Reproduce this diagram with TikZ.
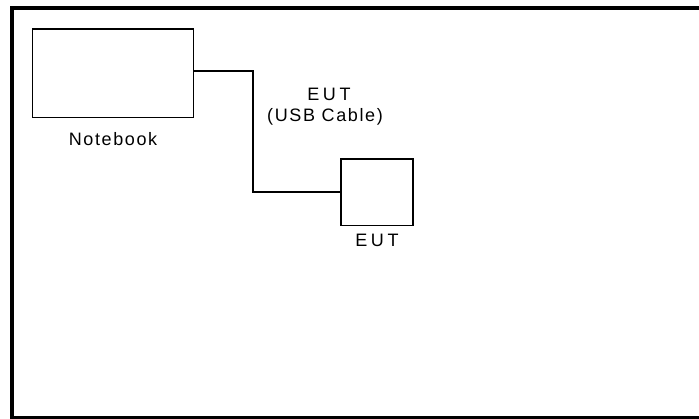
\documentclass[tikz,border=0pt]{standalone}
\usepackage{fontspec}
\setmainfont{Liberation Sans}[LetterSpace=9]
\begin{document}
\begin{tikzpicture}[x=1pt,y=-1pt,
  box/.style={draw=black,line width=1.4pt,inner sep=0pt},
  lbl/.style={font=\fontsize{18}{21}\selectfont,inner sep=0pt,align=center},
  cable/.style={draw=black,line width=1.4pt}]
\useasboundingbox (0,0) rectangle (699,419);
\fill[white] (0,0) rectangle (699,419);
\draw[line width=4pt,line join=miter] (720,8) -- (12,8) -- (12,418) -- (720,418);
\node[box,minimum width=161pt,minimum height=88.3pt] (nb) at (112.8,73.2) {};
\node[lbl] (nbl) at (113,139) {Notebook};
\node[box,minimum width=72pt,minimum height=66.3pt] (eut) at (377,192.2) {};
\node[lbl] (eutl) at (377,240) {\addfontfeatures{LetterSpace=20}EUT};
\node[lbl] (cl1) at (329,94) {\addfontfeatures{LetterSpace=20}EUT};
\node[lbl] (cl2) at (325,117) {(USB Cable)};
\coordinate (bend) at (253,71);
\draw[cable] (nb.east |- bend) -- (bend) |- (eut.west);
\end{tikzpicture}
\end{document}
